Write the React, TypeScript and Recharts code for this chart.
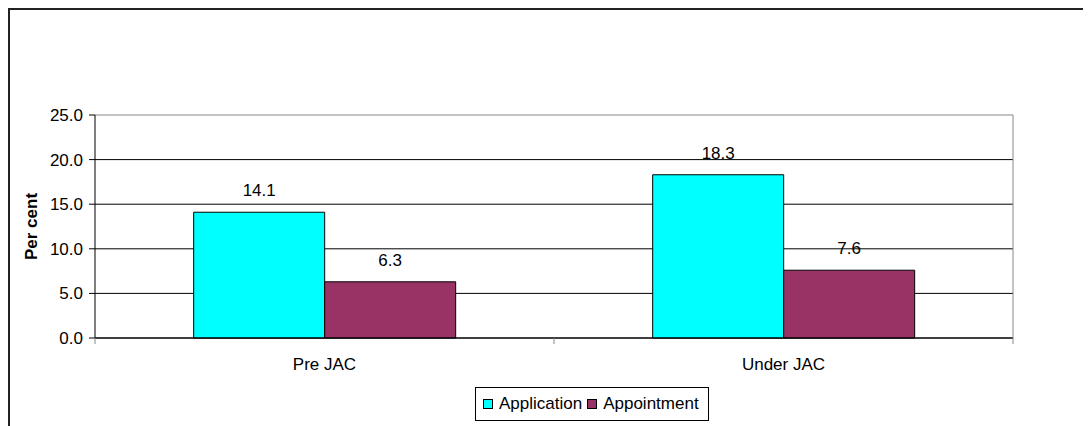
import React from 'react';
import {
  BarChart, Bar, XAxis, YAxis, CartesianGrid, Legend, LabelList, ReferenceLine,
} from 'recharts';

// ─── Data ─────────────────────────────────────────────────────────────────────
const categories = ['Pre JAC', 'Under JAC'];
const application = [14.1, 18.3];
const appointment = [6.3, 7.6];
const yTicks = [0, 5, 10, 15, 20, 25];

const data = categories.map((name, i) => ({
  name,
  application: application[i],
  appointment: appointment[i],
}));

// ─── Layout ───────────────────────────────────────────────────────────────────
const CHART_W = 1073;
const CHART_H = 420;
const MARGIN = { top: 105, right: 69, left: 0, bottom: 9 };
const Y_AXIS_W = 85;
const FRAME_W = 1;
const PLOT_W = CHART_W - MARGIN.left - MARGIN.right - Y_AXIS_W - FRAME_W;
const HALF_BAND = PLOT_W / categories.length / 2;
const FONT = '"Liberation Sans", Arial, sans-serif';
const FS = 17;

// Excel-style category axis: tick marks sit between categories
const CategoryTick = ({ x, y, payload, index }: any) => (
  <g>
    <line x1={x - HALF_BAND} x2={x - HALF_BAND} y1={y} y2={y + 6} stroke="#888" />
    {index === categories.length - 1 && (
      <line x1={x + HALF_BAND} x2={x + HALF_BAND} y1={y} y2={y + 6} stroke="#888" />
    )}
    <text x={x} y={y + 32} textAnchor="middle" fill="#000" fontSize={FS}>
      {payload.value}
    </text>
  </g>
);

const LegendBox = ({ payload }: any) => (
  <div
    style={{
      boxSizing: 'border-box', height: 34, width: 234, border: '1px solid #000',
      display: 'flex', alignItems: 'center', paddingLeft: 7, fontSize: FS, fontFamily: FONT,
      background: '#fff',
    }}
  >
    {(payload || []).map((p: any, i: number) => (
      <span key={i} style={{ display: 'flex', alignItems: 'center', marginRight: 5 }}>
        <span
          style={{
            display: 'inline-block', width: 8, height: 8, border: '1px solid #000',
            background: p.color, marginRight: 6,
          }}
        />
        {p.value}
      </span>
    ))}
  </div>
);

const YLabel = ({ viewBox }: any) => {
  const cx = viewBox.x + 21;
  const cy = viewBox.y + viewBox.height / 2;
  return (
    <text
      x={cx} y={cy} transform={`rotate(-90 ${cx} ${cy})`}
      textAnchor="middle" dominantBaseline="central"
      fontWeight="bold" fontSize={FS} fill="#000"
    >
      Per cent
    </text>
  );
};

export default function App() {
  return (
    <div
      style={{
        width: CHART_W + 4, height: CHART_H + 4, border: '2px solid #222',
        fontFamily: FONT, background: '#fff',
      }}
    >
      <BarChart
        width={CHART_W}
        height={CHART_H}
        data={data}
        margin={MARGIN}
        barCategoryGap="21.5%"
        barGap={0}
      >
        <CartesianGrid
          vertical={false}
          stroke="#000"
          horizontalCoordinatesGenerator={({ offset }: any) =>
            yTicks.slice(0, -1).map((v) => offset.top + offset.height * (1 - v / 25))
          }
        />
        <XAxis
          dataKey="name"
          height={49}
          tickSize={0}
          tickMargin={0}
          tickLine={false}
          axisLine={{ stroke: '#000' }}
          tick={<CategoryTick />}
        />
        <YAxis
          width={Y_AXIS_W}
          domain={[0, 25]}
          ticks={yTicks}
          interval={0}
          tickSize={6}
          tickMargin={6}
          tickFormatter={(v: number) => v.toFixed(1)}
          tick={{ fill: '#000', fontSize: FS }}
          tickLine={{ stroke: '#000' }}
          axisLine={{ stroke: '#000' }}
          label={<YLabel />}
        />
        <YAxis
          yAxisId="frame"
          orientation="right"
          width={FRAME_W}
          domain={[0, 25]}
          ticks={yTicks}
          tick={false}
          tickLine={false}
          axisLine={{ stroke: '#888' }}
        />
        <ReferenceLine y={25} stroke="#888" />
        <Legend
          verticalAlign="bottom"
          content={<LegendBox />}
          wrapperStyle={{ left: 465, width: 234, height: 34 }}
        />
        <Bar
          dataKey="application"
          name="Application"
          fill="#00FFFF"
          stroke="#000"
          strokeWidth={1}
          isAnimationActive={false}
        >
          <LabelList
            dataKey="application"
            position="top"
            offset={16}
            fill="#000"
            fontSize={FS}
            formatter={(v: number) => v.toFixed(1)}
          />
        </Bar>
        <Bar
          dataKey="appointment"
          name="Appointment"
          fill="#993366"
          stroke="#000"
          strokeWidth={1}
          isAnimationActive={false}
        >
          <LabelList
            dataKey="appointment"
            position="top"
            offset={16}
            fill="#000"
            fontSize={FS}
            formatter={(v: number) => v.toFixed(1)}
          />
        </Bar>
      </BarChart>
    </div>
  );
}
